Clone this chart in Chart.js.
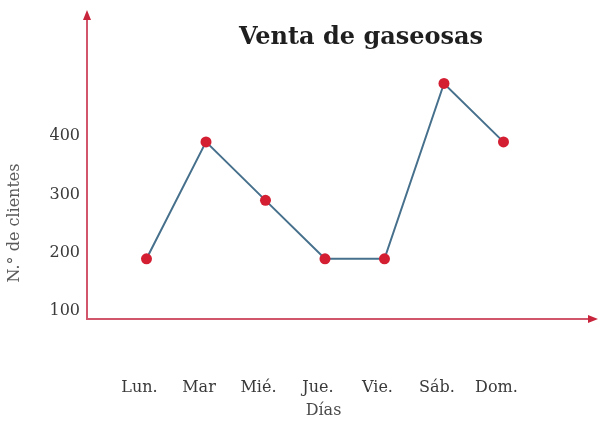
<!DOCTYPE html>
<html>
<head>
<meta charset="utf-8">
<script src="https://cdn.jsdelivr.net/npm/chart.js@4.4.1/dist/chart.umd.min.js"></script>
<style>
  html, body { margin: 0; padding: 0; background: #fff; }
  #wrap { width: 598px; height: 426px; position: relative; }
</style>
</head>
<body>
<div id="wrap"><canvas id="chart"></canvas></div>
<script>
/* Venta de gaseosas — clientes por día */

const dias     = ['Lun.', 'Mar', 'Mié.', 'Jue.', 'Vie.', 'Sáb.', 'Dom.'];
const clientes = [200, 400, 300, 200, 200, 500, 400];
const yTicks   = [100, 200, 300, 400];
const titulo   = 'Venta de gaseosas';
const yTitulo  = 'N.° de clientes';

const AXIS  = '#d2566b';
const ARROW = '#c8243c';
const SERIF = '"DejaVu Serif", serif';

// arrowheads + the bit of x axis past the last day, plus the titles
const axisArrows = {
  id: 'axisArrows',
  afterDraw(chart) {
    const { ctx, chartArea: a } = chart;
    ctx.save();
    ctx.strokeStyle = AXIS;
    ctx.lineWidth = 2;
    ctx.beginPath();
    ctx.moveTo(a.right - 1, a.bottom);
    ctx.lineTo(chart.width - 6, a.bottom);
    ctx.stroke();

    ctx.fillStyle = ARROW;
    // x arrow
    ctx.beginPath();
    ctx.moveTo(chart.width, a.bottom);
    ctx.lineTo(chart.width - 10, a.bottom - 4);
    ctx.lineTo(chart.width - 10, a.bottom + 4);
    ctx.closePath();
    ctx.fill();
    // y arrow
    ctx.beginPath();
    ctx.moveTo(a.left, a.top - 8);
    ctx.lineTo(a.left - 4, a.top + 2);
    ctx.lineTo(a.left + 4, a.top + 2);
    ctx.closePath();
    ctx.fill();

    ctx.font = 'bold 24px ' + SERIF;
    ctx.fillStyle = '#1f1f1f';
    ctx.textAlign = 'center';
    ctx.textBaseline = 'alphabetic';
    ctx.fillText(titulo, 361, 44);

    // y axis title sits lower than the middle of the axis
    ctx.translate(15, 223);
    ctx.rotate(-Math.PI / 2);
    ctx.font = '16px ' + SERIF;
    ctx.fillStyle = '#5a5a5a';
    ctx.textBaseline = 'middle';
    ctx.fillText(yTitulo, 0, 0);
    ctx.restore();
  }
};

new Chart(document.getElementById('chart'), {
  type: 'line',
  data: {
    datasets: [{
      data: clientes.map((v, i) => ({ x: i + 1, y: v })),
      borderColor: '#46708c',
      borderWidth: 2,
      tension: 0,
      pointRadius: 5.5,
      pointBorderWidth: 0,
      pointBackgroundColor: '#d41f33',
    }]
  },
  options: {
    responsive: true,
    maintainAspectRatio: false,
    animation: false,
    layout: { padding: { top: 18, right: 38, bottom: 0, left: 0 } },
    plugins: { legend: { display: false }, tooltip: { enabled: false } },
    scales: {
      x: {
        type: 'linear',
        min: 0,
        max: 7.95,
        afterBuildTicks: s => { s.ticks = dias.map((d, i) => ({ value: i + 1 })); },
        afterFit: s => { s.height = 107; },
        grid: { display: false, drawTicks: false },
        border: { color: AXIS, width: 2 },
        ticks: {
          padding: 59,
          labelOffset: -7,
          color: '#3a3a3a',
          font: { family: SERIF, size: 16 },
          callback: v => dias[v - 1],
        },
        title: {
          display: true,
          text: 'Días',
          color: '#4a4a4a',
          font: { family: SERIF, size: 16 },
          padding: { top: 0, bottom: 6 },
        },
      },
      y: {
        min: 97,
        max: 612,
        afterBuildTicks: s => { s.ticks = yTicks.map(v => ({ value: v })); },
        afterFit: s => { s.width = 87; },
        grid: { display: false, drawTicks: false },
        border: { color: AXIS, width: 2 },
        ticks: {
          padding: 7,
          labelOffset: -6,
          color: '#3a3a3a',
          font: { family: SERIF, size: 16 },
        },
      },
    },
  },
  plugins: [axisArrows],
});
</script>
</body>
</html>
